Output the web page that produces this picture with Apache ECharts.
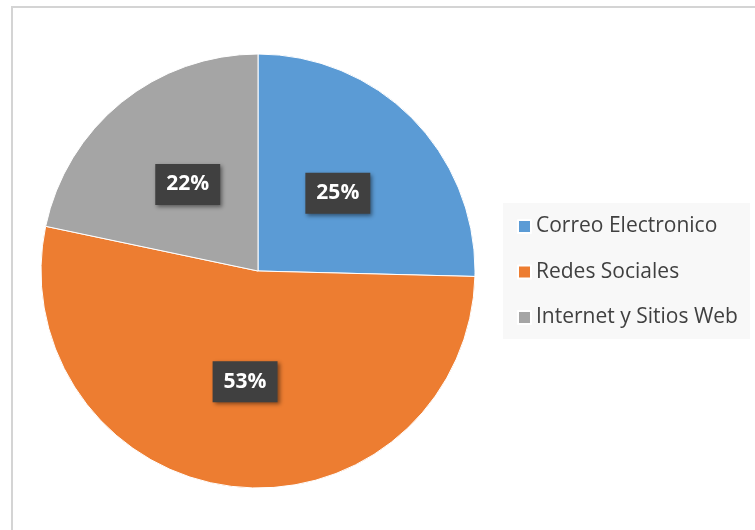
<!DOCTYPE html>
<html><head><meta charset="utf-8">
<script src="https://cdn.jsdelivr.net/npm/echarts@6/dist/echarts.min.js"></script>
<style>html,body{margin:0;padding:0;background:#fff}#c{width:755px;height:530px}</style>
</head><body><div id="c"></div>
<script>
const categories = ['Correo Electronico', 'Redes Sociales', 'Internet y Sitios Web'];
const values = [25.4, 52.9, 21.7];
const colors = ['#5B9BD5', '#ED7D31', '#A5A5A5'];

const chart = echarts.init(document.getElementById('c'));
chart.setOption({
  animation: false,
  backgroundColor: '#fff',
  graphic: [{
    type: 'rect', silent: true,
    shape: {x: 12, y: 7, width: 800, height: 600},
    style: {fill: 'none', stroke: '#d4d4d4', lineWidth: 2}
  }],
  legend: {
    orient: 'vertical',
    left: 503, top: 203,
    padding: [13, 12, 11, 14],
    backgroundColor: '#f8f8f8',
    itemWidth: 13, itemHeight: 13,
    itemGap: 24.5,
    icon: 'rect',
    textStyle: {fontFamily: 'Open Sans', fontSize: 21, color: '#404040', lineHeight: 20},
    data: categories
  },
  series: [{
    type: 'pie',
    center: [258, 271],
    radius: 217,
    startAngle: 90,
    clockwise: true,
    itemStyle: {borderColor: '#fff', borderWidth: 1},
    label: {
      position: 'inside',
      formatter: p => Math.round(p.value) + '%',
      color: '#fff',
      fontFamily: 'Open Sans',
      fontWeight: 'bold',
      fontSize: 21,
      backgroundColor: '#404040',
      padding: [10, 11, 10, 11],
      shadowBlur: 4, shadowOffsetX: 2, shadowOffsetY: 2,
      shadowColor: 'rgba(0,0,0,0.45)'
    },
    labelLine: {show: false},
    data: categories.map((n, i) => ({name: n, value: values[i], itemStyle: {color: colors[i]}}))
  }]
});
</script></body></html>
